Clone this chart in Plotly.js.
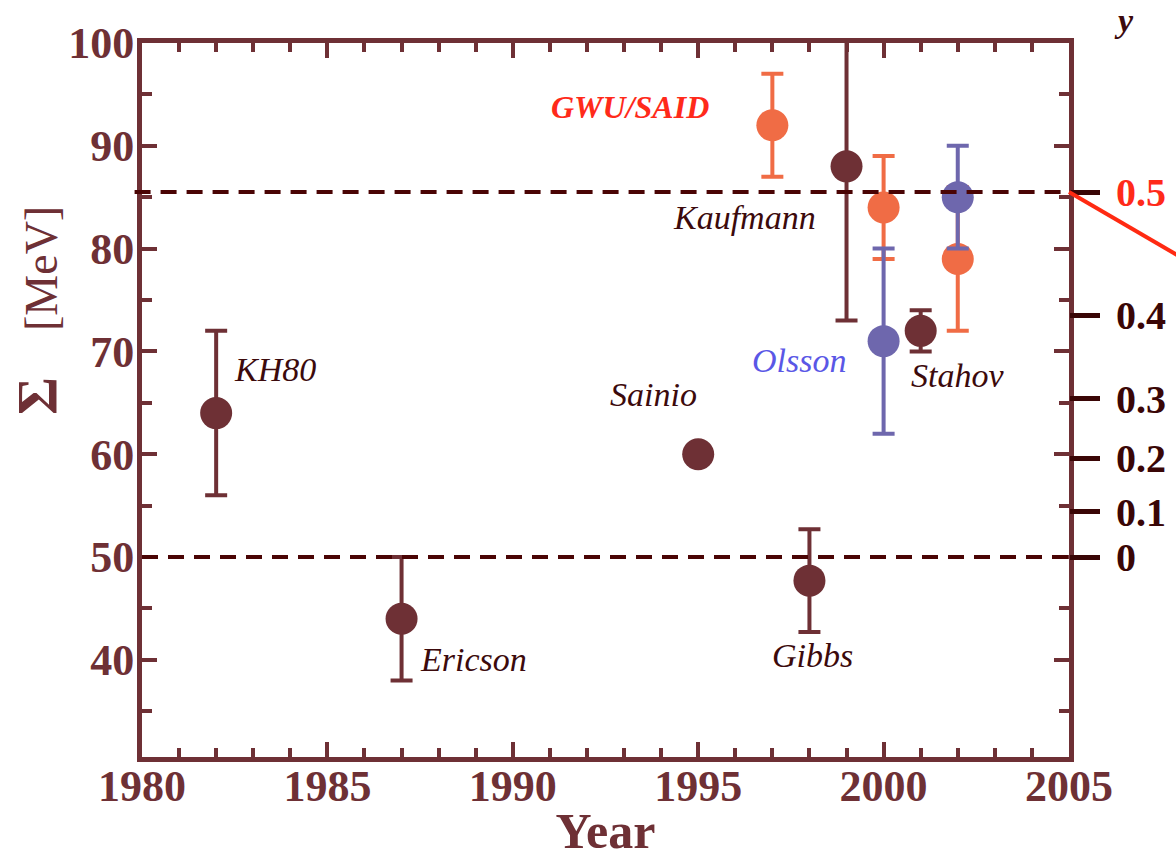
<!DOCTYPE html>
<html>
<head>
<meta charset="utf-8">
<script src="https://cdn.plot.ly/plotly-3.0.1.min.js"></script>
<style>html,body{margin:0;padding:0;background:#fff;}#chart{width:1176px;height:859px;}</style>
</head>
<body>
<div id="chart"></div>
<script>
// ---- data ----
var otherYears = [1982, 1987, 1995, 1998, 1999, 2001];
var otherSigma = [64, 44, 60, 47.7, 88, 72];
var otherErr   = [8, 6, 0, 5, 15, 2];

var gwuYears = [1997, 2000, 2002];
var gwuSigma = [92, 84, 79];
var gwuErr   = [5, 5, 7];

var olssonYears = [2000, 2002];
var olssonSigma = [71, 85];
var olssonErr   = [9, 5];

var xTickVals = [1980, 1985, 1990, 1995, 2000, 2005];
var yTickVals = [40, 50, 60, 70, 80, 90, 100];

// right-hand "y" scale: position on Sigma axis and label
var yScaleSigma  = [50, 54.4, 59.6, 65.4, 73.5, 85.5];
var yScaleLabels = ['0', '0.1', '0.2', '0.3', '0.4', '0.5'];

// reference levels (Sigma, MeV)
var refLevels = [50, 85.5];

// point labels
var labelText  = ['KH80', 'Ericson', 'Sainio', 'Gibbs', 'Kaufmann', 'Stahov', 'Olsson', 'GWU/SAID'];
var labelYear  = [1983.6, 1988.95, 1993.8, 1998.07, 1996.25, 2002.0, 1997.71, 1993.16];
var labelSigma = [68.2, 40.0, 65.8, 40.4, 83.0, 67.7, 69.1, 93.8];
var labelKind  = ['other', 'other', 'other', 'other', 'other', 'other', 'olsson', 'gwu'];

// red line leaving the right axis (second panel)
var redLineSigma = [85.5, 79.2];

// ---- styles ----
var MAROON = '#6e3035';
var DARK = '#3c0a0c';
var ORANGE = '#f06c45';
var PURPLE = '#6e67ad';
var SERIF = '"Liberation Serif", "Times New Roman", Times, serif';

function series(x, y, e, color) {
  return {
    type: 'scatter', mode: 'markers', x: x, y: y,
    marker: {size: 32, color: color, line: {width: 0}},
    error_y: {type: 'data', array: e, visible: true, color: color, thickness: 4, width: 11},
    showlegend: false, hoverinfo: 'x+y', cliponaxis: true
  };
}

var traces = [
  series(otherYears, otherSigma, otherErr, MAROON),
  series(gwuYears, gwuSigma, gwuErr, ORANGE),
  series(olssonYears, olssonSigma, olssonErr, PURPLE),
  {type: 'scatter', x: [], y: [], xaxis: 'x', yaxis: 'y2', showlegend: false, hoverinfo: 'skip'}
];

var kindStyle = {
  other:  {color: DARK, weight: 'normal', size: 34},
  olsson: {color: '#5a57e6', weight: 'normal', size: 34},
  gwu:    {color: '#ff2a1a', weight: 'bold', size: 32}
};

var annotations = labelText.map(function (t, i) {
  var s = kindStyle[labelKind[i]];
  return {
    x: labelYear[i], y: labelSigma[i], xref: 'x', yref: 'y', text: t, showarrow: false,
    xanchor: 'center', yanchor: 'middle',
    font: {family: SERIF, size: s.size, color: s.color, style: 'italic', weight: s.weight}
  };
});

annotations.push({
  x: -0.112, y: 0.625, xref: 'paper', yref: 'paper', textangle: -90, showarrow: false,
  xanchor: 'center', yanchor: 'middle',
  text: '<b><span style="font-size:58px">Σ</span></b>\u00a0\u00a0\u00a0\u00a0[MeV]',
  font: {family: SERIF, size: 46, color: MAROON}
});
annotations.push({
  x: 1.059, y: 1.032, xref: 'paper', yref: 'paper', showarrow: false,
  xanchor: 'center', yanchor: 'middle', text: 'y',
  font: {family: SERIF, size: 34, color: DARK, style: 'italic', weight: 'bold'}
});

var shapes = refLevels.map(function (v, i) {
  return {
    type: 'line', xref: 'paper', yref: 'y', x0: i === 1 ? -0.008 : 0, x1: 1, y0: v, y1: v,
    line: {color: '#4a0404', width: 4, dash: '16px,10px'}, layer: 'above'
  };
});
shapes.push({
  type: 'line', xref: 'paper', yref: 'y', x0: 1, x1: 1.12, y0: redLineSigma[0], y1: redLineSigma[1],
  line: {color: '#ff2a12', width: 4}, layer: 'above'
});

var axisCommon = {
  showline: true, linewidth: 5, linecolor: MAROON, mirror: 'ticks',
  ticks: 'inside', ticklen: 15, tickwidth: 4, tickcolor: MAROON,
  showgrid: false, zeroline: false,
  tickfont: {family: SERIF, size: 44, color: MAROON, weight: 'bold'}
};

var layout = {
  width: 1176, height: 859,
  margin: {l: 142, r: 107, t: 43, b: 102},
  paper_bgcolor: '#ffffff', plot_bgcolor: '#ffffff',
  showlegend: false,
  xaxis: Object.assign({}, axisCommon, {
    range: [1980, 2005], tickvals: xTickVals, ticklabelstandoff: -14,
    minor: {dtick: 1, tick0: 1980, ticks: 'inside', ticklen: 9, tickwidth: 4, tickcolor: MAROON},
    title: {text: '<b>Year</b>', standoff: 14, font: {family: SERIF, size: 50, color: MAROON}},
    automargin: false
  }),
  yaxis: Object.assign({}, axisCommon, {
    range: [30.55, 100], tickvals: yTickVals, ticklabelstandoff: -6,
    minor: {dtick: 5, tick0: 0, ticks: 'inside', ticklen: 10, tickwidth: 4, tickcolor: MAROON},
    automargin: false
  }),
  yaxis2: {
    overlaying: 'y', side: 'right', anchor: 'x', range: [30.55, 100],
    tickmode: 'array', tickvals: yScaleSigma,
    ticktext: yScaleLabels.map(function (t, i) {
      return i === yScaleLabels.length - 1 ? '<span style="color:#ff2a1a">' + t + '</span>' : t;
    }),
    ticks: 'outside', ticklen: 30, tickwidth: 5, tickcolor: '#3a0606',
    showline: false, showgrid: false, zeroline: false, ticklabelstandoff: 8,
    tickfont: {family: SERIF, size: 40, color: '#3a0606', weight: 'bold'},
    automargin: false
  },
  shapes: shapes,
  annotations: annotations
};

Plotly.newPlot('chart', traces, layout, {displayModeBar: false, staticPlot: true});
</script>
</body>
</html>
